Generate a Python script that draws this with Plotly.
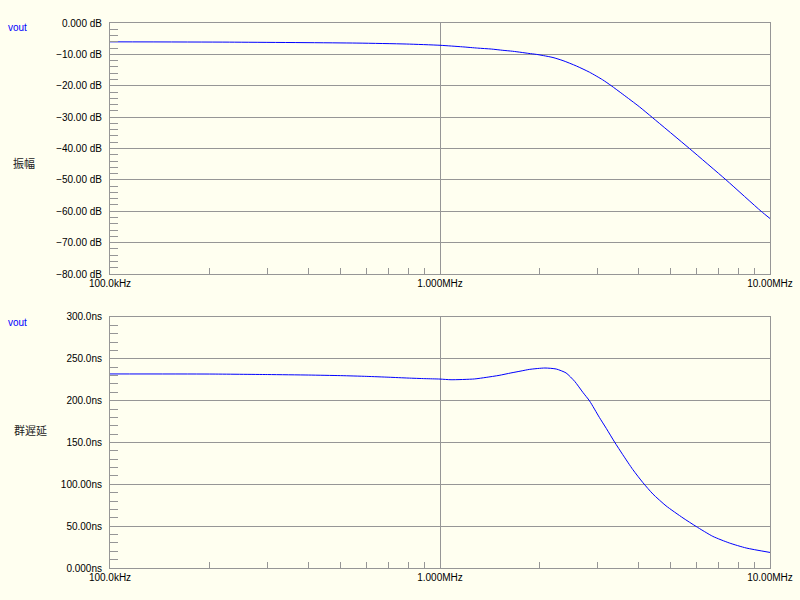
import plotly.graph_objects as go

# ---- data ----
freq_mag_hz = [1.0e5, 2.3e5, 5.6e5, 7.9e5, 1.0e6, 1.17e6, 1.30e6, 1.43e6, 1.55e6, 1.66e6,
               1.76e6, 1.86e6, 1.96e6, 2.06e6, 2.20e6, 2.36e6, 2.59e6, 2.84e6, 3.11e6,
               3.30e6, 3.58e6, 4.02e6, 4.41e6, 5.70e6, 7.36e6, 9.40e6, 1.0e7]
mag_db = [-6.0, -6.1, -6.4, -6.7, -7.1, -7.6, -8.0, -8.3, -8.7, -9.0,
          -9.35, -9.7, -10.0, -10.4, -11.0, -12.0, -13.7, -15.7, -18.1,
          -19.95, -22.7, -26.7, -30.2, -40.0, -50.0, -60.0, -62.3]

freq_gd_hz = [1.0e5, 2.0e5, 3.0e5, 4.0e5, 5.0e5, 6.0e5, 7.0e5, 8.0e5, 9.0e5, 1.0e6,
              1.08e6, 1.27e6, 1.38e6, 1.51e6, 1.64e6, 1.76e6, 1.87e6, 2.08e6, 2.25e6,
              2.41e6, 2.56e6, 2.71e6, 2.84e6, 3.04e6, 3.19e6, 3.38e6, 3.58e6, 3.84e6,
              4.12e6, 4.42e6, 4.84e6, 5.45e6, 5.97e6, 6.71e6, 7.53e6, 8.47e6, 1.0e7]
gd_ns = [231.9, 231.8, 231.2, 230.6, 229.9, 229.0, 228.0, 227.0, 226.3, 225.8,
         225.0, 225.9, 227.8, 230.2, 233.1, 235.4, 237.4, 239.0, 237.8,
         233.1, 223.0, 209.9, 199.6, 180.0, 166.9, 150.6, 135.4, 117.6,
         102.0, 88.3, 74.3, 59.8, 49.7, 37.8, 29.9, 23.9, 18.6]

x_tick_vals = [1e5, 1e6, 1e7]
x_tick_text = ["100.0kHz", "1.000MHz", "10.00MHz"]
mag_tick_vals = [0, -10, -20, -30, -40, -50, -60, -70, -80]
mag_tick_text = ["0.000 dB", "\u221210.00 dB", "\u221220.00 dB", "\u221230.00 dB", "\u221240.00 dB",
                 "\u221250.00 dB", "\u221260.00 dB", "\u221270.00 dB", "\u221280.00 dB"]
gd_tick_vals = [0, 50, 100, 150, 200, 250, 300]
gd_tick_text = ["0.000ns", "50.00ns", "100.00ns", "150.0ns", "200.0ns", "250.0ns", "300.0ns"]

# ---- styling ----
BG = "#FFFFF0"
GRID = "#969696"
TRACE = "#0000FF"
FONT = "Liberation Sans"

x_minor = [m * 10 ** d for d in (5, 6) for m in range(2, 10)]
mag_minor = [v for v in range(-80, 1, 2) if v % 10 != 0]
gd_minor = [v for v in range(0, 301, 10) if v % 50 != 0]

fig = go.Figure()
fig.add_trace(go.Scatter(x=freq_mag_hz, y=mag_db, mode="lines",
                         line=dict(color=TRACE, width=1, shape="spline", smoothing=0.6),
                         xaxis="x", yaxis="y", showlegend=False, hoverinfo="skip"))
fig.add_trace(go.Scatter(x=freq_gd_hz, y=gd_ns, mode="lines",
                         line=dict(color=TRACE, width=1, shape="spline", smoothing=0.6),
                         xaxis="x2", yaxis="y2", showlegend=False, hoverinfo="skip"))

def xaxis_cfg(anchor):
    return dict(type="log", range=[5, 7], anchor=anchor, domain=[0, 1], automargin=False,
                tickmode="array", tickvals=x_tick_vals, ticktext=x_tick_text,
                ticks="inside", ticklen=0, tickcolor=GRID,
                showgrid=True, gridcolor=GRID, gridwidth=1,
                showline=True, linecolor=GRID, linewidth=1, mirror=True,
                zeroline=False, tickfont=dict(family=FONT, size=10, color="black"),
                minor=dict(tickmode="array", tickvals=x_minor, ticks="inside", ticklen=6,
                           tickcolor=GRID, showgrid=False))

def yaxis_cfg(anchor, dom, rng, tv, tt, minor_vals):
    return dict(range=rng, anchor=anchor, domain=dom, automargin=False,
                tickmode="array", tickvals=tv, ticktext=tt,
                ticks="inside", ticklen=0, tickcolor=GRID, ticklabelstandoff=5,
                showgrid=True, gridcolor=GRID, gridwidth=1,
                showline=True, linecolor=GRID, linewidth=1, mirror=True,
                zeroline=False, tickfont=dict(family=FONT, size=10, color="black"),
                minor=dict(tickmode="array", tickvals=minor_vals, ticks="inside", ticklen=8,
                           tickcolor=GRID, showgrid=False))

fig.update_layout(
    width=800, height=600,
    paper_bgcolor=BG, plot_bgcolor=BG,
    margin=dict(l=110, r=30, t=23, b=32),
    xaxis=xaxis_cfg("y"),
    yaxis=yaxis_cfg("x", [0.5394, 1.0], [-80, 0], mag_tick_vals, mag_tick_text, mag_minor),
    xaxis2=xaxis_cfg("y2"),
    yaxis2=yaxis_cfg("x2", [0.0, 0.4606], [0, 300], gd_tick_vals, gd_tick_text, gd_minor),
)

def px_x(px):
    return (px - 110) / 660.0

def px_y(py):
    return (568.0 - py) / 545.0

annots = [
    dict(text="vout", x=px_x(6), y=px_y(27.5), color=TRACE, size=10, family=FONT),
    dict(text="vout", x=px_x(6), y=px_y(322), color=TRACE, size=10, family=FONT),
    dict(text="振幅", x=px_x(11), y=px_y(163), color="#222222", size=11, family="Noto Sans CJK JP"),
    dict(text="群遅延", x=px_x(12), y=px_y(430), color="#222222", size=11, family="Noto Sans CJK JP"),
]
for a in annots:
    fig.add_annotation(text=a["text"], xref="paper", yref="paper", x=a["x"], y=a["y"],
                       xanchor="left", yanchor="middle", showarrow=False,
                       font=dict(family=a["family"], size=a["size"], color=a["color"]))

fig.write_html("out.html", config={"displayModeBar": False},
               post_script="document.body.style.margin='0px';")
